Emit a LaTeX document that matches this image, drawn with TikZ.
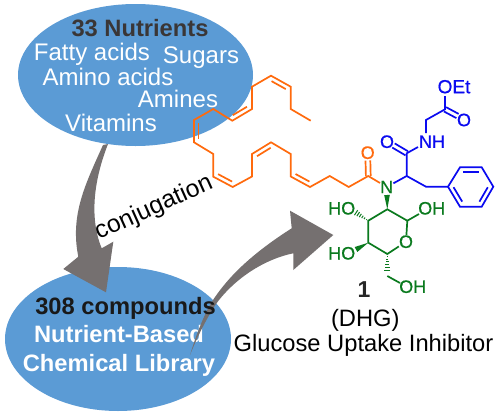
\documentclass[tikz,border=0pt]{standalone}
\usepackage{fontspec}
\setmainfont{Liberation Sans}
\newfontfamily\atomf[FakeBold=0.5]{Liberation Sans}
\usetikzlibrary{calc}
\definecolor{ellblue}{HTML}{5B9BD5}
\definecolor{arrgray}{HTML}{757070}
\definecolor{chemor}{HTML}{FF6A0D}
\definecolor{chembl}{HTML}{0A0AF0}
\definecolor{chemgr}{HTML}{0A7A1E}
\definecolor{dkt}{HTML}{3A3636}
\newcommand{\fs}[1]{\fontsize{#1}{#1}\selectfont}
\newcommand{\dbl}[3]{\draw ($(#1)!.14!(#2)!4.5pt!#3:(#2)$) -- ($(#2)!.14!(#1)!4.5pt!-#3:(#1)$);}
\newcommand{\dblsym}[2]{%
 \draw ($(#1)!2.4pt!90:(#2)$) -- ($(#2)!2.4pt!-90:(#1)$);
 \draw ($(#1)!2.4pt!-90:(#2)$) -- ($(#2)!2.4pt!90:(#1)$);}
\newcommand{\wedgeb}[3]{\fill[#3] (#1) -- ($(#2)!2.8pt!90:(#1)$) -- ($(#2)!2.8pt!-90:(#1)$) -- cycle;}
\newcommand{\hashb}[2]{\foreach \t in {.12,.28,.44,.60,.76,.92}{%
 \draw[line width=1pt] ($(#1)!\t!(#2)!{\t*3.2pt}!90:(#2)$) -- ($(#1)!\t!(#2)!{\t*3.2pt}!-90:(#2)$);}}
\tikzset{
 whitetxt/.style={anchor=base,text=white,inner sep=0pt,font=\fs{24}},
 whitebold/.style={anchor=base,text=white,inner sep=0pt,font=\fs{23.7}\bfseries},
 blacktxt/.style={anchor=base,inner sep=0pt,text=black,font=\fs{23.7}},
 swoosh/.style={fill=arrgray,draw=none},
 orbond/.style={draw=chemor,line width=1.7pt,line join=miter},
 blbond/.style={draw=chembl,line width=1.7pt,line join=miter},
 grbond/.style={draw=chemgr,line width=1.7pt,line join=miter},
 atomor/.style={text=chemor,inner sep=0pt,font=\fs{18}\atomf},
 atombl/.style={text=chembl,inner sep=0pt,font=\fs{18}\atomf},
 atomgr/.style={text=chemgr,inner sep=0pt,font=\fs{18}\atomf},
}
\begin{document}
\begin{tikzpicture}[x=1pt,y=-1pt]
\useasboundingbox (0,0) rectangle (500,415);
\fill[white] (0,0) rectangle (500,415);
% ellipses
\fill[ellblue] (135.5,75) ellipse [x radius=117.5,y radius=71];
\fill[ellblue] (118,339) ellipse [x radius=113,y radius=72];
% top texts
\node[anchor=base,inner sep=0pt,text=dkt,font=\fs{23.7}\bfseries] (nut) at (140,36) {33 Nutrients};
\node[whitetxt] (fa) at (92,60) {Fatty acids};
\node[whitetxt] (su) at (201,63) {Sugars};
\node[whitetxt] (am) at (108,85) {Amino acids};
\node[whitetxt] (ams) at (178,107) {Amines};
\node[whitetxt] (vi) at (111,131) {Vitamins};
% bottom texts
\node[whitebold] (nb) at (119,342) {Nutrient-Based};
\node[whitebold] (cl) at (119,371) {Chemical Library};
% swooshes
\fill[swoosh] (103,145) .. controls (85,185) and (70,215) .. (78.3,256.7)
  -- (63.3,269) -- (106,292.3) -- (113.3,241.7) -- (101.7,248.3)
  .. controls (92,225) and (90,190) .. (108,144) -- cycle;
\fill[swoosh] (190,355) .. controls (196,335) and (205,312) .. (213,300)
  .. controls (225,282) and (245,258) .. (291.7,228.3)
  -- (290,210.7) -- (333.3,235) -- (293.3,270) -- (293.3,253.3)
  .. controls (265,259) and (235,278) .. (216,304)
  .. controls (208,316) and (198,335) .. (190,355) -- cycle;
\node[anchor=base,inner sep=0pt,text=black!90,font=\fs{23.7}\bfseries] (cp) at (125.5,314) {308 compounds};
\node[inner sep=0pt,text=black,font=\fs{24.7},rotate=24.2] (conj) at (154,208) {conjugation};
% orange chain coordinates
\foreach \n/\p in {c1/{310.7,120.7},c2/{290.7,109},c3/{290.7,86.7},c4/{271,75.7},c5/{252,86.7},c6/{252,109},c7/{232.3,120.7},c8/{213.3,109},c9/{194,120},c10/{194,142.3},c11/{213.3,154},c12/{213.3,176.7},c13/{232.7,187},c14/{252,176.5},c15/{252,154},c16/{271,142.3},c17/{290.7,154},c18/{290.7,176.5},c19/{310,187},c20/{329.7,176},c21/{348.7,187},c22/{368.3,176}}
  {\coordinate (\n) at (\p);}
\node[atomor] (oo) at (367.7,152.7) {O};
\node[atomgr] (nn) at (386.7,187) {N};
\begin{scope}[orbond]
\draw (c1)--(c2)--(c3)--(c4)--(c5)--(c6)--(c7)--(c8)--(c9)--(c10)--(c11)--(c12)--(c13)--(c14)--(c15)--(c16)--(c17)--(c18)--(c19)--(c20)--(c21)--(c22)--(nn);
\dbl{c4}{c3}{-90}
\dbl{c7}{c6}{90}
\dbl{c9}{c10}{90}
\dbl{c12}{c13}{90}
\dbl{c15}{c16}{-90}
\dbl{c18}{c19}{90}
\coordinate (oe) at (367.9,160.5);
\dblsym{c22}{oe}
\end{scope}
% blue part
\coordinate (ch) at (406.7,176);
\coordinate (ca) at (406.7,153.3);
\coordinate (ch2a) at (426,186.7);
\coordinate (ph1) at (448,186.7);
\coordinate (ph2) at (460,167.3);
\coordinate (ph3) at (481.7,167.3);
\coordinate (ph4) at (493.3,186.7);
\coordinate (ph5) at (481.7,206.7);
\coordinate (ph6) at (460,206.7);
\coordinate (ch2b) at (426,120);
\coordinate (ce) at (445,109.3);
\node[atombl] (o2) at (387,141.7) {O};
\node[atombl] (nh) at (432,141.7) {NH};
\node[atombl,font=\fs{19}\atomf] (oet) at (454,86.7) {OEt};
\node[atombl] (o3) at (464,120) {O};
\coordinate (oetb) at (445,96);
\coordinate (nhl) at (418,147);
\coordinate (nht) at (426,133);
\coordinate (o2e) at (393.5,145.5);
\coordinate (o3e) at (457.5,116);
\begin{scope}[blbond]
\draw (nn)--(ch)--(ca)--(nhl);
\draw (nht)--(ch2b)--(ce)--(oetb);
\draw (ch)--(ch2a)--(ph1);
\dblsym{ca}{o2e}
\dblsym{ce}{o3e}
\draw (ph1)--(ph2)--(ph3)--(ph4)--(ph5)--(ph6)--cycle;
\dbl{ph2}{ph3}{-90}
\dbl{ph4}{ph5}{-90}
\dbl{ph1}{ph6}{90}
\end{scope}
% green part
\coordinate (g2) at (387.3,209.3);
\coordinate (g1) at (407.3,220.7);
\coordinate (g3) at (368.3,220.7);
\coordinate (g4) at (368.3,242.7);
\coordinate (g5) at (387.3,254);
\coordinate (g6) at (387.3,276);
\coordinate (nb2) at (387,195);
\node[atomgr] (ho1) at (341.7,208.3) {HO};
\node[atomgr] (oh1) at (431.7,208.3) {OH};
\node[atomgr] (orng) at (406,241.7) {O};
\node[atomgr] (ho2) at (341.7,253.3) {HO};
\node[atomgr] (oh2) at (412.7,286.7) {OH};
\coordinate (h1e) at (355,212);
\coordinate (h2e) at (356,249.5);
\coordinate (oh1e) at (419,214);
\coordinate (oh2e) at (400,283);
\coordinate (g6h) at (387.3,272);
\begin{scope}[grbond]
\draw (orng)--(g1)--(g2)--(g3)--(g4)--(g5)--(orng);
\draw (g1)--(oh1e);
\draw (g6)--(oh2e);
\wedgeb{g2}{nb2}{chemgr}
\wedgeb{g4}{h2e}{chemgr}
\hashb{g3}{h1e}
\hashb{g5}{g6h}
\end{scope}
% labels
\node[anchor=base,inner sep=0pt,text=black!85,font=\fs{23}\bfseries] (one) at (364,297) {1};
\node[blacktxt] (dhg) at (365.3,326) {(DHG)};
\node[blacktxt] (gui) at (363.5,351.7) {Glucose Uptake Inhibitor};
\end{tikzpicture}
\end{document}
